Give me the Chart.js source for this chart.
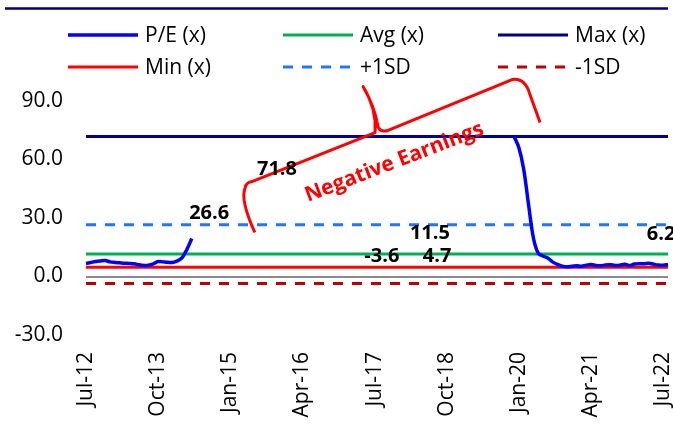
<!DOCTYPE html>
<html>
<head>
<meta charset="utf-8">
<script src="https://cdn.jsdelivr.net/npm/chart.js@4.4.1/dist/chart.umd.min.js"></script>
<style>
  html, body { margin: 0; padding: 0; background: #ffffff; }
  #wrap { width: 673px; height: 427px; position: relative; }
</style>
</head>
<body>
<div id="wrap"><canvas id="c" width="673" height="427"></canvas></div>
<script>
// ---- Data ----
const MONTHS = ['Jan','Feb','Mar','Apr','May','Jun','Jul','Aug','Sep','Oct','Nov','Dec'];
// categories: monthly from Jul-12 to Aug-22
const categories = [];
for (let y = 2012; y <= 2022; y++) {
  for (let m = 0; m < 12; m++) {
    if (y === 2012 && m < 6) continue;
    if (y === 2022 && m > 7) continue;
    categories.push(MONTHS[m] + '-' + String(y).slice(2));
  }
}
const tickLabels = ['Jul-12','Oct-13','Jan-15','Apr-16','Jul-17','Oct-18','Jan-20','Apr-21','Jul-22'];

// P/E (x): Jul-12 .. May-14
const peSegment1 = [6.7, 7.2, 7.7, 8.0, 8.2, 7.5, 7.2, 7.0, 6.8, 6.7, 6.5, 6.0, 5.6, 5.8, 6.5, 7.7, 7.5, 7.3, 7.2, 8.0, 9.7, 14.0, 19.5];
// P/E (x): Dec-19 .. Aug-22
const peSegment2 = [71.8, 66.0, 55.0, 37.0, 20.0, 12.0, 10.5, 9.5, 7.5, 6.2, 5.3, 5.0,
                    5.2, 5.5, 5.3, 5.8, 6.2, 5.6, 5.5, 5.9, 6.0, 5.7, 5.8, 6.3, 5.6, 6.4, 6.6, 6.5, 6.8, 6.3, 5.9, 5.8, 6.2];
const seg2Start = 'Dec-19';

const avgPE = 11.5;
const maxPE = 71.8;
const minPE = 4.7;
const plus1SD = 26.6;
const minus1SD = -3.6;

const yTicks = { min: -30, max: 90, step: 30 };

// value labels: [text, category index, value, align]
const valueLabels = [
  ['26.6', 25.6, 32.3, 'center'],
  ['71.8', 39.7, 54.9, 'center'],
  ['11.5', 71.5, 22.0, 'center'],
  ['-3.6', 61.5, 10.3, 'center'],
  ['4.7', 73.0, 10.3, 'center'],
  ['6.2', 116.6, 21.5, 'left']
];
// "Negative Earnings" annotation anchor (category index, value), angle in degrees
const negText = { text: 'Negative Earnings', idx: 64.1, val: 58.5, angle: -21 };
// brace path in (category index, value) units
const bracePath = [
  ['M', 35.1, 22.6],
  ['Q', 32.0, 39.5, 33.1, 45.6],
  ['Q', 33.3, 48.2, 34.5, 48.7],
  ['L', 60.1, 73.8],
  ['Q', 60.5, 85.6, 57.6, 97.4],
  ['Q', 60.1, 86.7, 60.7, 76.9],
  ['Q', 61.1, 73.8, 62.8, 74.9],
  ['L', 88.6, 101.0],
  ['Q', 91.3, 102.0, 92.3, 93.3],
  ['L', 94.4, 79.0]
];

// ---- Build P/E series ----
const peData = categories.map(() => null);
peSegment1.forEach((v, i) => { peData[i] = v; });
const s2 = categories.indexOf(seg2Start);
peSegment2.forEach((v, i) => { if (s2 + i < peData.length) peData[s2 + i] = v; });

const first = categories[0], last = categories[categories.length - 1];
const hline = v => [{ x: first, y: v }, { x: last, y: v }];

const FONT = "'Open Sans', 'Liberation Sans', sans-serif";

const legendItems = [
  { text: 'P/E (x)', color: '#0000FF', dash: [], width: 3.5, x: 68, y: 35 },
  { text: 'Avg (x)', color: '#00B050', dash: [], width: 3, x: 283, y: 35 },
  { text: 'Max (x)', color: '#00008B', dash: [], width: 3, x: 498, y: 35 },
  { text: 'Min (x)', color: '#FF0000', dash: [], width: 3, x: 68, y: 67 },
  { text: '+1SD', color: '#1F77FF', dash: [10, 9], width: 3, x: 283, y: 67 },
  { text: '-1SD', color: '#C00000', dash: [10, 9], width: 3, x: 498, y: 67 }
];

const decorPlugin = {
  id: 'decor',
  afterDraw(chart) {
    const ctx = chart.ctx;
    const xs = chart.scales.x, ys = chart.scales.y;
    const px = i => xs.getPixelForValue(i);
    const py = v => ys.getPixelForValue(v);
    ctx.save();
    // top rule
    ctx.strokeStyle = '#000080';
    ctx.lineWidth = 2.5;
    ctx.beginPath(); ctx.moveTo(5, 8.5); ctx.lineTo(668, 8.5); ctx.stroke();

    // legend
    legendItems.forEach(it => {
      ctx.strokeStyle = it.color;
      ctx.lineWidth = it.width;
      ctx.setLineDash(it.dash);
      ctx.lineCap = 'butt';
      ctx.beginPath(); ctx.moveTo(it.x, it.y); ctx.lineTo(it.x + 70, it.y); ctx.stroke();
      ctx.setLineDash([]);
      ctx.fillStyle = '#000000';
      ctx.font = '21px ' + FONT;
      ctx.textAlign = 'left';
      ctx.textBaseline = 'middle';
      ctx.fillText(it.text, it.x + 77, it.y + 1);
    });

    // brace
    ctx.strokeStyle = '#FF0000';
    ctx.lineWidth = 3;
    ctx.lineJoin = 'round';
    ctx.beginPath();
    bracePath.forEach(p => {
      if (p[0] === 'M') ctx.moveTo(px(p[1]), py(p[2]));
      else if (p[0] === 'L') ctx.lineTo(px(p[1]), py(p[2]));
      else ctx.quadraticCurveTo(px(p[1]), py(p[2]), px(p[3]), py(p[4]));
    });
    ctx.stroke();

    // Negative Earnings
    ctx.save();
    ctx.translate(px(negText.idx), py(negText.val));
    ctx.rotate(negText.angle * Math.PI / 180);
    ctx.fillStyle = '#FF0000';
    ctx.font = 'bold 21px ' + FONT;
    ctx.textAlign = 'center';
    ctx.textBaseline = 'middle';
    ctx.fillText(negText.text, 0, 0);
    ctx.restore();

    // value labels
    ctx.fillStyle = '#000000';
    ctx.font = 'bold 20px ' + FONT;
    ctx.textBaseline = 'middle';
    valueLabels.forEach(l => {
      ctx.textAlign = l[3];
      ctx.fillText(l[0], px(l[1]), py(l[2]));
    });
    ctx.restore();
  }
};

new Chart(document.getElementById('c'), {
  type: 'line',
  data: {
    labels: categories,
    datasets: [
      { label: 'P/E (x)', data: peData, borderColor: '#0000FF', borderWidth: 3.5, tension: 0.35, spanGaps: false, pointRadius: 0 },
      { label: 'Avg (x)', data: hline(avgPE), borderColor: '#00B050', borderWidth: 3, pointRadius: 0 },
      { label: 'Max (x)', data: hline(maxPE), borderColor: '#00008B', borderWidth: 3, pointRadius: 0 },
      { label: 'Min (x)', data: hline(minPE), borderColor: '#FF0000', borderWidth: 3, pointRadius: 0 },
      { label: '+1SD', data: hline(plus1SD), borderColor: '#1F77FF', borderWidth: 3, borderDash: [10, 9], pointRadius: 0 },
      { label: '-1SD', data: hline(minus1SD), borderColor: '#C00000', borderWidth: 3, borderDash: [10, 9], pointRadius: 0 }
    ]
  },
  options: {
    responsive: false,
    animation: false,
    events: [],
    layout: { padding: { top: 101, right: 5, left: 10, bottom: 0 } },
    plugins: { legend: { display: false }, tooltip: { enabled: false }, title: { display: false } },
    scales: {
      x: {
        type: 'category',
        offset: false,
        grid: { display: false, drawTicks: false },
        border: { display: false },
        afterFit: s => { s.height = 92; s.paddingLeft = 0; s.paddingRight = 0; },
        ticks: {
          autoSkip: false,
          minRotation: 90,
          maxRotation: 90,
          padding: 17,
          color: '#000000',
          font: { family: FONT, size: 21 },
          callback: function (val) {
            const lab = this.getLabelForValue(val);
            return tickLabels.includes(lab) ? lab : null;
          }
        }
      },
      y: {
        min: yTicks.min,
        max: yTicks.max,
        afterFit: s => { s.width = 76; s.paddingTop = 0; s.paddingBottom = 0; },
        grid: {
          drawTicks: false,
          lineWidth: 2,
          color: c => (c.tick && c.tick.value === 0) ? '#8C8C8C' : 'rgba(0,0,0,0)'
        },
        border: { display: false },
        ticks: {
          stepSize: yTicks.step,
          padding: 23,
          color: '#000000',
          font: { family: FONT, size: 21 },
          callback: v => v.toFixed(1)
        }
      }
    }
  },
  plugins: [decorPlugin]
});
</script>
</body>
</html>
